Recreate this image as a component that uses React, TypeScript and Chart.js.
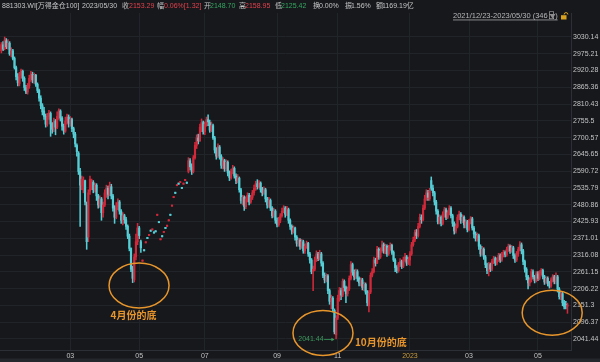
import React, { useEffect, useRef } from 'react';
import { Chart, registerables } from 'chart.js';
Chart.register(...registerables);

// ---- daily OHLC, 2021/12/23 - 2023/05/30 (346 trading days) ----
const OPEN = [
  2985,3005,2992,3018,2998,3010,2975,2985,2960,2930,
  2900,2878,2905,2918,2895,2865,2850,2870,2895,2908,
  2890,2905,2875,2855,2830,2805,2788,2770,2745,2770,
  2780,2745,2728,2755,2735,2770,2788,2765,2738,2722,
  2755,2768,2748,2760,2730,2712,2675,2650,2590,2545,
  2530,2560,2480,2375,2525,2550,2555,2530,2545,2510,
  2480,2500,2455,2480,2520,2535,2515,2540,2510,2470,
  2440,2475,2490,2460,2430,2445,2432,2410,2378,2338,
  2270,2235,2310,2360,2405,2360,2296,2334,2356,2374,
  2380,2398,2398,2392,2396,2446,2426,2366,2380,2390,
  2407,2410,2428,2450,2476,2504,2522,2543,2552,2553,
  2538,2548,2560,2555,2590,2625,2605,2590,2635,2675,
  2700,2690,2735,2750,2720,2745,2760,2750,2725,2740,
  2700,2660,2640,2670,2640,2610,2625,2600,2620,2585,
  2570,2590,2600,2575,2560,2568,2530,2495,2505,2475,
  2500,2512,2490,2505,2520,2535,2550,2540,2552,2530,
  2520,2530,2500,2480,2495,2470,2445,2460,2430,2415,
  2430,2445,2460,2470,2450,2465,2430,2410,2395,2405,
  2375,2355,2365,2345,2360,2330,2345,2355,2320,2300,
  2262,2270,2300,2320,2305,2320,2290,2250,2235,2248,
  2200,2165,2175,2135,2055,2110,2175,2200,2185,2230,
  2210,2190,2205,2240,2285,2260,2245,2262,2240,2225,
  2235,2210,2220,2195,2150,2195,2250,2262,2300,2290,
  2335,2310,2330,2350,2330,2345,2320,2340,2348,2325,
  2300,2275,2265,2285,2295,2280,2300,2310,2290,2300,
  2320,2350,2365,2390,2380,2410,2440,2432,2470,2500,
  2520,2500,2560,2535,2520,2490,2460,2425,2440,2420,
  2450,2465,2440,2455,2470,2445,2420,2395,2410,2440,
  2450,2430,2440,2415,2425,2400,2425,2435,2405,2385,
  2370,2380,2345,2320,2335,2310,2285,2265,2285,2270,
  2295,2305,2290,2300,2315,2300,2318,2325,2318,2335,
  2345,2330,2340,2315,2300,2320,2335,2350,2330,2295,
  2270,2245,2225,2235,2262,2245,2232,2255,2240,2258,
  2266,2245,2228,2240,2225,2215,2235,2245,2230,2245,
  2205,2180,2190,2160,2155,2148.70,
];
const HIGH = [
  3012,3015,3030.14,3025,3022,3015,2995,2990,2965,2935,
  2910,2915,2925,2922,2900,2872,2878,2905,2918,2915,
  2912,2908,2880,2860,2838,2812,2800,2778,2780,2790,
  2785,2750,2765,2760,2785,2795,2792,2770,2745,2768,
  2778,2775,2770,2765,2735,2718,2680,2655,2600,2575,
  2572,2562,2490,2530,2575,2565,2560,2552,2550,2515,
  2510,2505,2490,2530,2545,2542,2555,2548,2515,2478,
  2488,2500,2495,2465,2455,2450,2440,2415,2385,2340,
  2280,2320,2385,2420,2410,2365,2300,2334,2360,2374,
  2384,2398,2402,2392,2396,2450,2426,2370,2380,2394,
  2407,2414,2432,2450,2480,2508,2522,2547,2552,2557,
  2538,2552,2564,2555,2635,2632,2615,2642,2685,2710,
  2712,2745,2762,2755,2752,2768,2775,2758,2752,2745,
  2705,2668,2680,2675,2645,2635,2630,2628,2625,2592,
  2598,2610,2605,2582,2580,2572,2535,2512,2510,2508,
  2520,2518,2512,2528,2545,2558,2563,2560,2556,2538,
  2540,2535,2505,2505,2500,2475,2470,2465,2438,2440,
  2452,2470,2478,2475,2476,2470,2435,2415,2412,2408,
  2380,2372,2370,2368,2365,2352,2362,2358,2325,2305,
  2280,2310,2330,2325,2332,2325,2295,2258,2255,2252,
  2205,2185,2180,2140,2118,2185,2210,2208,2238,2235,
  2215,2212,2248,2295,2290,2268,2270,2268,2245,2242,
  2240,2228,2225,2200,2200,2258,2272,2310,2306,2345,
  2340,2340,2362,2356,2352,2350,2348,2356,2352,2330,
  2305,2282,2292,2305,2300,2310,2322,2315,2310,2328,
  2358,2375,2398,2400,2420,2450,2448,2480,2512,2530,
  2528,2535,2572,2545,2525,2495,2465,2448,2445,2458,
  2472,2470,2462,2478,2475,2450,2425,2418,2448,2460,
  2455,2448,2445,2432,2430,2432,2442,2440,2410,2392,
  2388,2385,2350,2345,2340,2315,2290,2292,2290,2302,
  2312,2310,2308,2322,2320,2325,2332,2330,2342,2352,
  2350,2348,2345,2320,2328,2342,2360,2356,2335,2300,
  2275,2250,2242,2270,2268,2250,2262,2262,2265,2272,
  2270,2250,2246,2245,2230,2242,2252,2250,2258,2250,
  2210,2198,2195,2168,2165,2158.95,
];
const LOW = [
  2978,2985,2988,2992,2990,2970,2965,2955,2925,2890,
  2870,2870,2895,2885,2855,2845,2843,2862,2885,2880,
  2878,2868,2848,2820,2795,2775,2760,2735,2738,2760,
  2705,2715,2720,2710,2730,2760,2755,2725,2712,2718,
  2745,2735,2738,2720,2700,2670,2640,2580,2410,2530,
  2520,2480,2335,2360,2515,2530,2520,2522,2495,2470,
  2472,2430,2440,2475,2505,2500,2510,2500,2460,2420,
  2435,2465,2450,2420,2415,2420,2400,2370,2330,2262,
  2226,2228,2300,2350,2370,2325,2296,2330,2356,2370,
  2380,2394,2398,2388,2392,2446,2422,2366,2376,2390,
  2403,2410,2428,2446,2476,2504,2518,2543,2548,2553,
  2534,2548,2560,2551,2585,2595,2580,2585,2630,2665,
  2680,2688,2720,2712,2710,2738,2740,2718,2720,2695,
  2650,2630,2635,2630,2600,2598,2590,2592,2575,2560,
  2565,2582,2568,2550,2552,2522,2485,2480,2462,2468,
  2490,2480,2485,2498,2512,2528,2532,2535,2522,2510,
  2515,2490,2470,2472,2462,2438,2440,2420,2408,2410,
  2422,2440,2455,2440,2445,2420,2400,2385,2388,2365,
  2345,2345,2335,2338,2322,2322,2338,2312,2290,2255,
  2200,2265,2295,2298,2300,2280,2242,2225,2228,2190,
  2155,2140,2130,2058,2041.44,2105,2165,2170,2180,2198,
  2160,2182,2200,2235,2250,2235,2238,2230,2215,2215,
  2202,2200,2188,2150,2130,2190,2245,2258,2280,2288,
  2302,2305,2325,2322,2320,2312,2315,2332,2318,2295,
  2262,2258,2260,2278,2272,2275,2295,2282,2285,2282,
  2315,2345,2360,2370,2375,2405,2420,2428,2465,2495,
  2495,2495,2528,2510,2480,2450,2418,2418,2412,2415,
  2440,2432,2435,2448,2438,2410,2385,2388,2405,2432,
  2420,2422,2405,2405,2392,2395,2418,2398,2372,2362,
  2362,2335,2312,2315,2302,2275,2255,2248,2262,2265,
  2288,2282,2284,2295,2292,2295,2310,2310,2312,2328,
  2322,2325,2305,2292,2295,2312,2330,2320,2285,2260,
  2235,2205,2215,2228,2238,2225,2228,2232,2235,2250,
  2238,2220,2222,2215,2208,2210,2228,2222,2222,2195,
  2172,2170,2150,2140,2140,2125.42,
];
const CLOSE = [
  3005,2990,3020,2998,3010,2975,2985,2960,2930,2900,
  2880,2905,2920,2895,2865,2850,2870,2895,2910,2890,
  2905,2875,2855,2830,2805,2785,2770,2745,2770,2782,
  2745,2728,2755,2735,2770,2790,2765,2738,2722,2755,
  2768,2748,2760,2730,2712,2680,2655,2590,2545,2565,
  2560,2490,2360,2520,2565,2558,2530,2545,2510,2480,
  2500,2455,2480,2520,2535,2515,2545,2510,2470,2440,
  2475,2490,2460,2430,2445,2432,2410,2378,2338,2270,
  2240,2310,2360,2405,2380,2340,2300,2330,2360,2370,
  2384,2394,2402,2388,2392,2450,2422,2370,2376,2394,
  2403,2414,2432,2446,2480,2508,2518,2547,2548,2557,
  2534,2552,2564,2551,2625,2605,2590,2635,2675,2700,
  2690,2735,2750,2720,2745,2760,2752,2725,2740,2700,
  2660,2640,2672,2640,2610,2625,2600,2620,2585,2570,
  2590,2600,2575,2560,2570,2530,2495,2505,2475,2500,
  2512,2490,2505,2520,2535,2550,2540,2552,2530,2520,
  2530,2500,2480,2495,2470,2445,2460,2430,2415,2430,
  2445,2460,2470,2450,2468,2430,2410,2395,2405,2375,
  2355,2365,2345,2360,2330,2345,2355,2320,2300,2262,
  2270,2300,2320,2305,2322,2290,2250,2235,2248,2200,
  2165,2175,2140,2065,2110,2175,2200,2185,2230,2210,
  2190,2205,2240,2285,2260,2245,2262,2240,2225,2235,
  2210,2220,2195,2160,2192,2250,2262,2300,2290,2335,
  2310,2330,2350,2330,2345,2320,2340,2348,2325,2300,
  2275,2265,2285,2295,2280,2300,2310,2290,2302,2320,
  2350,2365,2390,2380,2410,2440,2432,2470,2500,2520,
  2505,2525,2535,2520,2490,2460,2425,2440,2420,2450,
  2465,2440,2455,2470,2445,2420,2395,2410,2440,2450,
  2430,2440,2415,2425,2400,2425,2435,2405,2385,2370,
  2380,2345,2320,2335,2310,2285,2265,2285,2270,2295,
  2305,2290,2300,2315,2300,2318,2325,2318,2335,2345,
  2330,2340,2315,2300,2320,2335,2350,2330,2295,2270,
  2245,2225,2235,2262,2245,2232,2255,2240,2258,2266,
  2245,2228,2240,2225,2215,2235,2245,2230,2245,2205,
  2180,2190,2160,2148,2152,2153.29,
];

// ---- axes ----
const X_TICK_INDEX = [42, 84, 124, 168, 205, 249, 285, 327];
const X_TICK_LABELS = ['03', '05', '07', '09', '11', '2023', '03', '05'];
const Y_TICKS = [
  3030.14, 2975.21, 2920.28, 2865.36, 2810.43, 2755.5, 2700.57, 2645.65, 2590.72, 2535.79,
  2480.86, 2425.93, 2371.01, 2316.08, 2261.15, 2206.22, 2151.3, 2096.37, 2041.44,
];

// ---- header / annotations ----
const HEADER_TEXT = ['881303.WI[万得金仓100]', '2023/05/30', '收', '2153.29', '幅', '0.06%[1.32]', '开', '2148.70', '高', '2158.95', '低', '2125.42', '换', '0.00%', '振', '1.56%', '额', '1169.19亿'];
const HEADER_KIND = ['label', 'label', 'label', 'up', 'label', 'up', 'label', 'down', 'label', 'up', 'label', 'down', 'label', 'label', 'label', 'label', 'label', 'label'];
const RANGE_TEXT = '2021/12/23-2023/05/30 (346日)';
const ELLIPSE_INDEX = [83.9, 196.0, 335.7];
const ELLIPSE_PRICE = [2216.6, 2061.0, 2127.2];
const NOTE_TEXT = ['4月份的底', '10月份的底'];
const NOTE_INDEX = [80.5, 215.5];
const NOTE_PRICE = [2120, 2030];

// ---- layout & styles ----
const HEADER_X = [2, 82, 122, 129, 157, 164, 204, 210, 239, 245, 275, 281, 313, 319, 345, 351, 376, 382];
const NOTE_ALIGN: CanvasTextAlign[] = ['center', 'left'];
const X_MIN = -0.84;
const X_MAX = 347.16;
const Y_MIN = 2005.4;
const Y_MAX = 3108.7;
const BG = '#16181c';
const GRID = '#212429';
const AXIS_LINE = '#2c2f35';
const UP = '#d2283a';
const DOWN = '#55ced6';
const ORANGE = '#e8962c';
const TEXT = '#c4c4c4';
const HDR_UP = '#e0414c';
const HDR_DOWN = '#35a860';
const LOW_GREEN = '#3c9a5c';
const FONT = '"Liberation Sans", "Noto Sans CJK SC", Arial, sans-serif';
const CJK_FONT = '"Noto Sans CJK SC", "Liberation Sans", sans-serif';

export default function App() {
  const ref = useRef<HTMLCanvasElement>(null);

  useEffect(() => {
    document.body.style.margin = '0';
    document.body.style.background = BG;
    const canvas = ref.current;
    if (!canvas) return;

    const idx = OPEN.map((_, i) => i);
    const colors = idx.map((i) => (CLOSE[i] >= OPEN[i] ? UP : DOWN));

    let lowIdx = 0;
    LOW.forEach((v, i) => { if (v < LOW[lowIdx]) lowIdx = i; });

    const overlay = {
      id: 'overlay',
      beforeDraw(chart: any) {
        const { ctx, width, height } = chart;
        ctx.save();
        ctx.fillStyle = BG;
        ctx.fillRect(0, 0, width, height);
        ctx.restore();
      },
      afterDraw(chart: any) {
        const { ctx } = chart;
        const xs = chart.scales.x;
        const ys = chart.scales.y;
        ctx.save();

        // header row
        ctx.font = `7px ${FONT}`;
        ctx.textBaseline = 'middle';
        ctx.textAlign = 'left';
        HEADER_TEXT.forEach((t, k) => {
          const kind = HEADER_KIND[k];
          ctx.fillStyle = kind === 'up' ? HDR_UP : kind === 'down' ? HDR_DOWN : TEXT;
          ctx.fillText(t, HEADER_X[k], 6);
        });

        // date range selector
        ctx.font = `7.5px ${FONT}`;
        ctx.fillStyle = '#b8b8b8';
        ctx.fillText(RANGE_TEXT, 453, 16);
        const w = ctx.measureText(RANGE_TEXT).width;
        ctx.fillRect(453, 19.6, w, 0.7);
        ctx.fillStyle = '#8e8e8e';
        ctx.beginPath();
        ctx.moveTo(549.5, 14);
        ctx.lineTo(555.5, 14);
        ctx.lineTo(552.5, 18.5);
        ctx.closePath();
        ctx.fill();
        // lock icon
        ctx.fillStyle = '#d9a21e';
        ctx.fillRect(561, 15.2, 5.5, 4.3);
        ctx.strokeStyle = '#d9a21e';
        ctx.lineWidth = 1;
        ctx.beginPath();
        ctx.arc(566, 14.5, 1.9, Math.PI, 0);
        ctx.stroke();

        // ellipses marking the bottoms
        ctx.strokeStyle = ORANGE;
        ctx.lineWidth = 1.5;
        ELLIPSE_INDEX.forEach((v, k) => {
          ctx.beginPath();
          ctx.ellipse(xs.getPixelForValue(v), ys.getPixelForValue(ELLIPSE_PRICE[k]), 30, 22.5, 0, 0, Math.PI * 2);
          ctx.stroke();
        });

        // notes
        ctx.font = `bold 10px ${CJK_FONT}`;
        ctx.fillStyle = ORANGE;
        NOTE_TEXT.forEach((t, k) => {
          ctx.textAlign = NOTE_ALIGN[k];
          ctx.fillText(t, xs.getPixelForValue(NOTE_INDEX[k]), ys.getPixelForValue(NOTE_PRICE[k]));
        });

        // lowest low marker
        const tipX = xs.getPixelForValue(lowIdx) - 1.5;
        const tipY = ys.getPixelForValue(LOW[lowIdx]) + 0.5;
        ctx.fillStyle = LOW_GREEN;
        ctx.strokeStyle = LOW_GREEN;
        ctx.font = `7px ${FONT}`;
        ctx.textAlign = 'right';
        ctx.fillText(LOW[lowIdx].toFixed(2), tipX - 11, tipY);
        ctx.lineWidth = 0.8;
        ctx.beginPath();
        ctx.moveTo(tipX - 10.5, tipY);
        ctx.lineTo(tipX - 2, tipY);
        ctx.stroke();
        ctx.beginPath();
        ctx.moveTo(tipX, tipY);
        ctx.lineTo(tipX - 3.2, tipY - 1.8);
        ctx.lineTo(tipX - 3.2, tipY + 1.8);
        ctx.closePath();
        ctx.fill();

        // bottom navigator strip
        ctx.fillStyle = '#24272c';
        ctx.fillRect(0, 358.5, 600, 3.5);

        ctx.restore();
      },
    };

    const chart = new Chart(canvas, {
      type: 'bar',
      data: {
        datasets: [
          {
            data: idx.map((i) => ({ x: i, y: [LOW[i], HIGH[i]] })),
            backgroundColor: colors,
            barThickness: 0.9,
            grouped: false,
            order: 2,
            borderWidth: 0,
          } as any,
          {
            data: idx.map((i) => ({ x: i, y: [OPEN[i], CLOSE[i]] })),
            backgroundColor: colors,
            barThickness: 1.5,
            grouped: false,
            order: 1,
            borderWidth: 0,
          } as any,
        ],
      },
      options: {
        animation: false,
        responsive: false,
        maintainAspectRatio: false,
        devicePixelRatio: 1,
        layout: { padding: { top: 13, left: 0, right: 0, bottom: 0 } },
        plugins: { legend: { display: false }, tooltip: { enabled: false } },
        scales: {
          x: {
            type: 'linear',
            position: 'bottom',
            min: X_MIN,
            max: X_MAX,
            offset: false,
            bounds: 'data',
            grid: { color: GRID, drawTicks: false, offset: false },
            border: { color: AXIS_LINE },
            ticks: {
              autoSkip: false,
              maxRotation: 0,
              minRotation: 0,
              padding: 2,
              font: { size: 7, family: FONT },
              color: (c: any) => (X_TICK_LABELS[c.index] === '2023' ? '#c89a3c' : TEXT),
              callback: (_v: any, i: number) => X_TICK_LABELS[i],
            },
            afterBuildTicks: (s: any) => { s.ticks = X_TICK_INDEX.map((v) => ({ value: v })); },
            afterFit: (s: any) => { s.height = 12; },
          } as any,
          y: {
            type: 'linear',
            position: 'right',
            min: Y_MIN,
            max: Y_MAX,
            beginAtZero: false,
            bounds: 'data',
            grid: { color: GRID, drawTicks: false },
            border: { color: AXIS_LINE },
            ticks: {
              autoSkip: false,
              padding: 2,
              font: { size: 7, family: FONT },
              color: TEXT,
              callback: (v: any) => String(v),
            },
            afterBuildTicks: (s: any) => { s.ticks = Y_TICKS.map((v) => ({ value: v })); },
            afterFit: (s: any) => { s.width = 29; },
          } as any,
        },
      },
      plugins: [overlay],
    });

    return () => chart.destroy();
  }, []);

  return (
    <div style={{ position: 'absolute', left: 0, top: 0, width: 600, height: 362, background: BG }}>
      <canvas ref={ref} width={600} height={362} style={{ display: 'block', width: 600, height: 362 }} />
    </div>
  );
}
